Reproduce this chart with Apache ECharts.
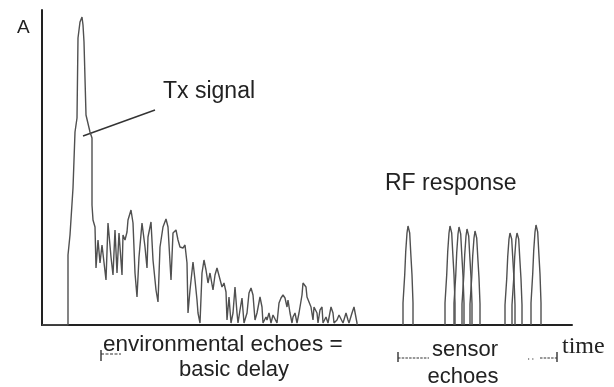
<!DOCTYPE html>
<html>
<head>
<meta charset="utf-8">
<script src="https://cdn.jsdelivr.net/npm/echarts@6/dist/echarts.min.js"></script>
<style>html,body{margin:0;padding:0;background:#fff}#c{width:614px;height:387px}</style>
</head>
<body>
<div id="c"></div>
<script>
// Tx pulse + environmental echoes (time in arbitrary units, amplitude in arbitrary units)
const mainTime = [0,26,26,28,31,33,35,36,38,40,41,42,44,48,50,50,51,
  53,54,56,58,60,62,64,66,69,71,73,75,77,80,81,83,85,86,89,91,93,95,97,100,103,105,106,109,111,114,116,118,121,124,126,129,131,134,136,138,141,143,145,146,148,151,153,155,156,158,160,162,164,166,168,171,173,175,177,180,182,184,185,187,189,191,193,195,196,198,200,202,205,207,209,211,213,215,218,220,221,224,225,227,229,231,233,235,237,239,241,243,245,246,248,250,251,253,255,257,259,260,261,264,265,267,269,271,272,275,276,278,280,281,284,286,289,291,292,295,297,299,301,304,306,307,310,312,314,315,315];
const mainAmp = [0,0,70,90,137,193,207,287,303,308,300,283,210,193,187,120,105,
  98,57,85,62,80,78,45,102,68,50,95,52,92,50,90,85,93,105,115,102,52,28,68,102,78,57,88,103,65,35,23,78,98,106,98,45,92,95,85,78,77,80,62,12,35,63,45,25,12,2,52,65,55,42,52,35,50,57,58,38,42,33,5,28,2,12,38,12,2,15,27,2,12,32,37,30,5,12,28,18,2,8,5,12,2,10,8,2,22,27,30,27,18,25,12,2,8,12,2,12,10,30,42,38,28,28,18,5,18,12,2,15,18,2,8,2,18,12,2,5,10,8,2,12,5,2,12,18,17,2,0];

// RF response: sensor echo pulses
const rf1Time = [361,361,362.7,363.7,365,366,367,367.7,368.7,370,371,371];
const rf1Amp  = [0,22,50,73,92,99,98,92,73,50,22,0];
const rf2Time = [403,403,404.7,405.7,407,408,409,409.7,410.7,412,413,413];
const rf2Amp  = [0,22,50,73,92,99,98,92,73,50,22,0];
const rf3Time = [412,412,413.7,414.7,416,417,418,418.7,419.7,421,422,422];
const rf3Amp  = [0,22,49,72,91,98,97,91,72,49,22,0];
const rf4Time = [420,420,421.7,422.7,424,425,426,426.7,427.7,429,430,430];
const rf4Amp  = [0,21,48,70,89,96,95,89,70,48,21,0];
const rf5Time = [428,428,429.7,430.7,432,433,434,434.7,435.7,437,438,438];
const rf5Amp  = [0,21,47,69,87,94,93,87,69,47,21,0];
const rf6Time = [463,463,464.7,465.7,467,468,469,469.7,470.7,472,473,473];
const rf6Amp  = [0,20,46,68,86,92,91,86,68,46,20,0];
const rf7Time = [470,470,471.7,472.7,474,475,476,476.7,477.7,479,480,480];
const rf7Amp  = [0,20,46,68,86,92,91,86,68,46,20,0];
const rf8Time = [489,489,490.7,491.7,493,494,495,495.7,496.7,498,499,499];
const rf8Amp  = [0,22,51,74,93,100,99,93,74,51,22,0];

const zip = (t, a) => t.map((v, i) => [v, a[i]]);
const pulses = [[rf1Time,rf1Amp],[rf2Time,rf2Amp],[rf3Time,rf3Amp],[rf4Time,rf4Amp],
                [rf5Time,rf5Amp],[rf6Time,rf6Amp],[rf7Time,rf7Amp],[rf8Time,rf8Amp]];

const lineColor = '#505050';
const sans = '"Liberation Sans", Arial, sans-serif';
const serif = '"Liberation Serif", "Times New Roman", serif';
const txtColor = '#222';

const series = [{
  type: 'line', data: zip(mainTime, mainAmp), showSymbol: false, silent: true,
  lineStyle: { color: lineColor, width: 1.4 }, z: 3
}].concat(pulses.map(p => ({
  type: 'line', data: zip(p[0], p[1]), showSymbol: false, silent: true,
  lineStyle: { color: lineColor, width: 1.4 }, z: 3
})));

function text(x, y, s, font, align) {
  return { type: 'text', x: x, y: y, silent: true,
    style: { text: s, font: font, fill: txtColor, align: align || 'left', verticalAlign: 'middle' } };
}
function seg(x1, y1, x2, y2, dash, w) {
  return { type: 'line', silent: true,
    shape: { x1: x1, y1: y1, x2: x2, y2: y2 },
    style: { stroke: '#333', lineWidth: w || 1.2, lineDash: dash || null } };
}

const chart = echarts.init(document.getElementById('c'), null, { renderer: 'canvas' });
chart.setOption({
  animation: false,
  backgroundColor: '#fff',
  grid: { left: 42, right: 42, top: 10, bottom: 62 },
  xAxis: { type: 'value', min: 0, max: 530,
    axisLine: { show: true, onZero: false, lineStyle: { color: '#222', width: 2 } },
    axisTick: { show: false }, axisLabel: { show: false }, splitLine: { show: false } },
  yAxis: { type: 'value', min: 0, max: 315,
    axisLine: { show: true, lineStyle: { color: '#222', width: 2 } },
    axisTick: { show: false }, axisLabel: { show: false }, splitLine: { show: false } },
  series: series,
  graphic: [
    text(17, 28, 'A', '19px ' + sans),
    text(163, 92, 'Tx signal', '23px ' + sans),
    seg(83, 136, 155, 110, null, 1.4),
    text(385, 184, 'RF response', '23px ' + sans),
    text(103, 345, 'environmental echoes =', '22.5px ' + sans),
    text(179, 370, 'basic delay', '22px ' + sans),
    seg(101, 350, 101, 361, null, 1.4),
    seg(101, 354, 121, 354, [3, 1.5], 1.2),
    text(465, 350, 'sensor', '22px ' + sans, 'center'),
    text(463, 377, 'echoes', '22px ' + sans, 'center'),
    seg(398, 352, 398, 362, null, 1.4),
    seg(398, 358, 429, 358, [2.5, 1.2], 1.2),
    seg(528, 359, 535, 359, [1.2, 3], 1.2),
    seg(540, 358, 557, 358, [2.5, 1.2], 1.2),
    seg(557, 352, 557, 362, null, 1.4),
    text(562, 347, 'time', '24px ' + serif)
  ]
});
</script>
</body>
</html>
